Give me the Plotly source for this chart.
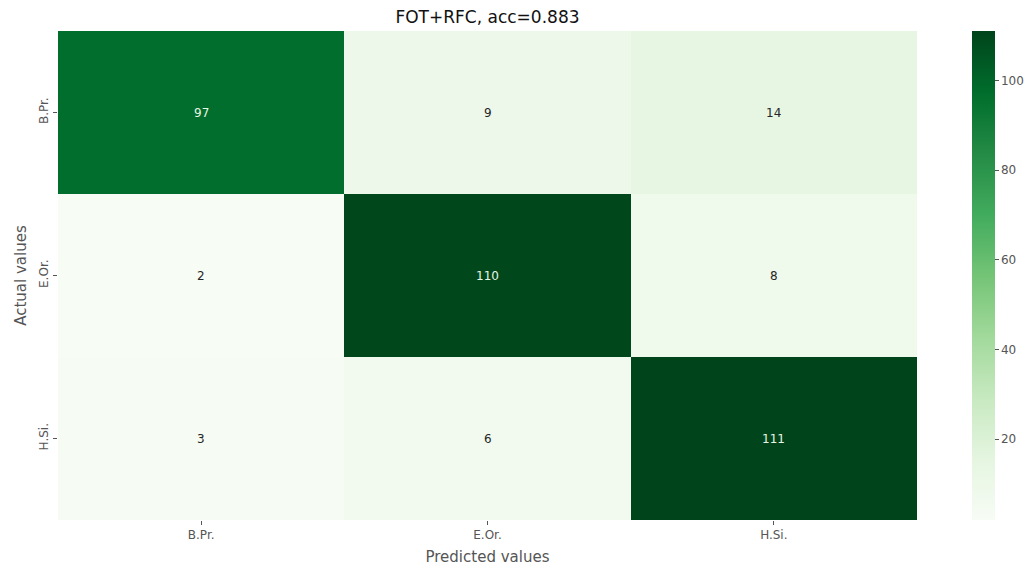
import plotly.graph_objects as go

classes = ["B.Pr.", "E.Or.", "H.Si."]
matrix = [
    [97, 9, 14],
    [2, 110, 8],
    [3, 6, 111],
]
title_text = "FOT+RFC, acc=0.883"

greens = ["#f7fcf5", "#e5f5e0", "#c7e9c0", "#a1d99b", "#74c476",
          "#41ab5d", "#238b45", "#006d2c", "#00441b"]
colorscale = [[i / (len(greens) - 1), c] for i, c in enumerate(greens)]

zmin = min(min(r) for r in matrix)
zmax = max(max(r) for r in matrix)

fig = go.Figure(go.Heatmap(
    z=matrix, x=classes, y=classes,
    colorscale=colorscale, zmin=zmin, zmax=zmax,
    xgap=0, ygap=0,
    colorbar=dict(
        thickness=23, len=1.0, lenmode="fraction", y=0.5, yanchor="middle",
        ypad=0, xpad=0,
        x=(972 - 58) / (917 - 58), xanchor="left", outlinewidth=0,
        tickvals=[20, 40, 60, 80, 100], ticks="outside", ticklen=4,
        tickcolor="#555", tickfont=dict(family="DejaVu Sans", size=12, color="#555"),
    ),
    hoverinfo="skip",
))

annotations = []
mid = (zmin + zmax) / 2
for i, row in enumerate(matrix):
    for j, v in enumerate(row):
        annotations.append(dict(
            x=classes[j], y=classes[i], text=str(v), showarrow=False,
            font=dict(family="DejaVu Sans", size=12,
                      color="#e8f5e4" if v > mid else "#262626"),
        ))

fig.update_layout(
    width=1031, height=568,
    margin=dict(l=58, r=114, t=31, b=48, autoexpand=False),
    paper_bgcolor="white", plot_bgcolor="white",
    title=dict(text=title_text, x=0.5, xanchor="center", xref="paper",
               y=1 - 17 / 568, yanchor="middle",
               font=dict(family="DejaVu Sans", size=17, color="#111")),
    annotations=annotations,
    xaxis=dict(
        title=dict(text="Predicted values", standoff=10,
                   font=dict(family="DejaVu Sans", size=15, color="#555")),
        ticks="outside", ticklen=4, tickcolor="#555", showgrid=False,
        tickfont=dict(family="DejaVu Sans", size=12, color="#555"),
        showline=False, zeroline=False,
    ),
    yaxis=dict(
        title=dict(text="Actual values", standoff=6,
                   font=dict(family="DejaVu Sans", size=15, color="#555")),
        autorange="reversed", tickangle=-90,
        ticks="outside", ticklen=4, tickcolor="#555", showgrid=False,
        tickfont=dict(family="DejaVu Sans", size=12, color="#555"),
        showline=False, zeroline=False,
    ),
)

fig.write_html("out.html")
